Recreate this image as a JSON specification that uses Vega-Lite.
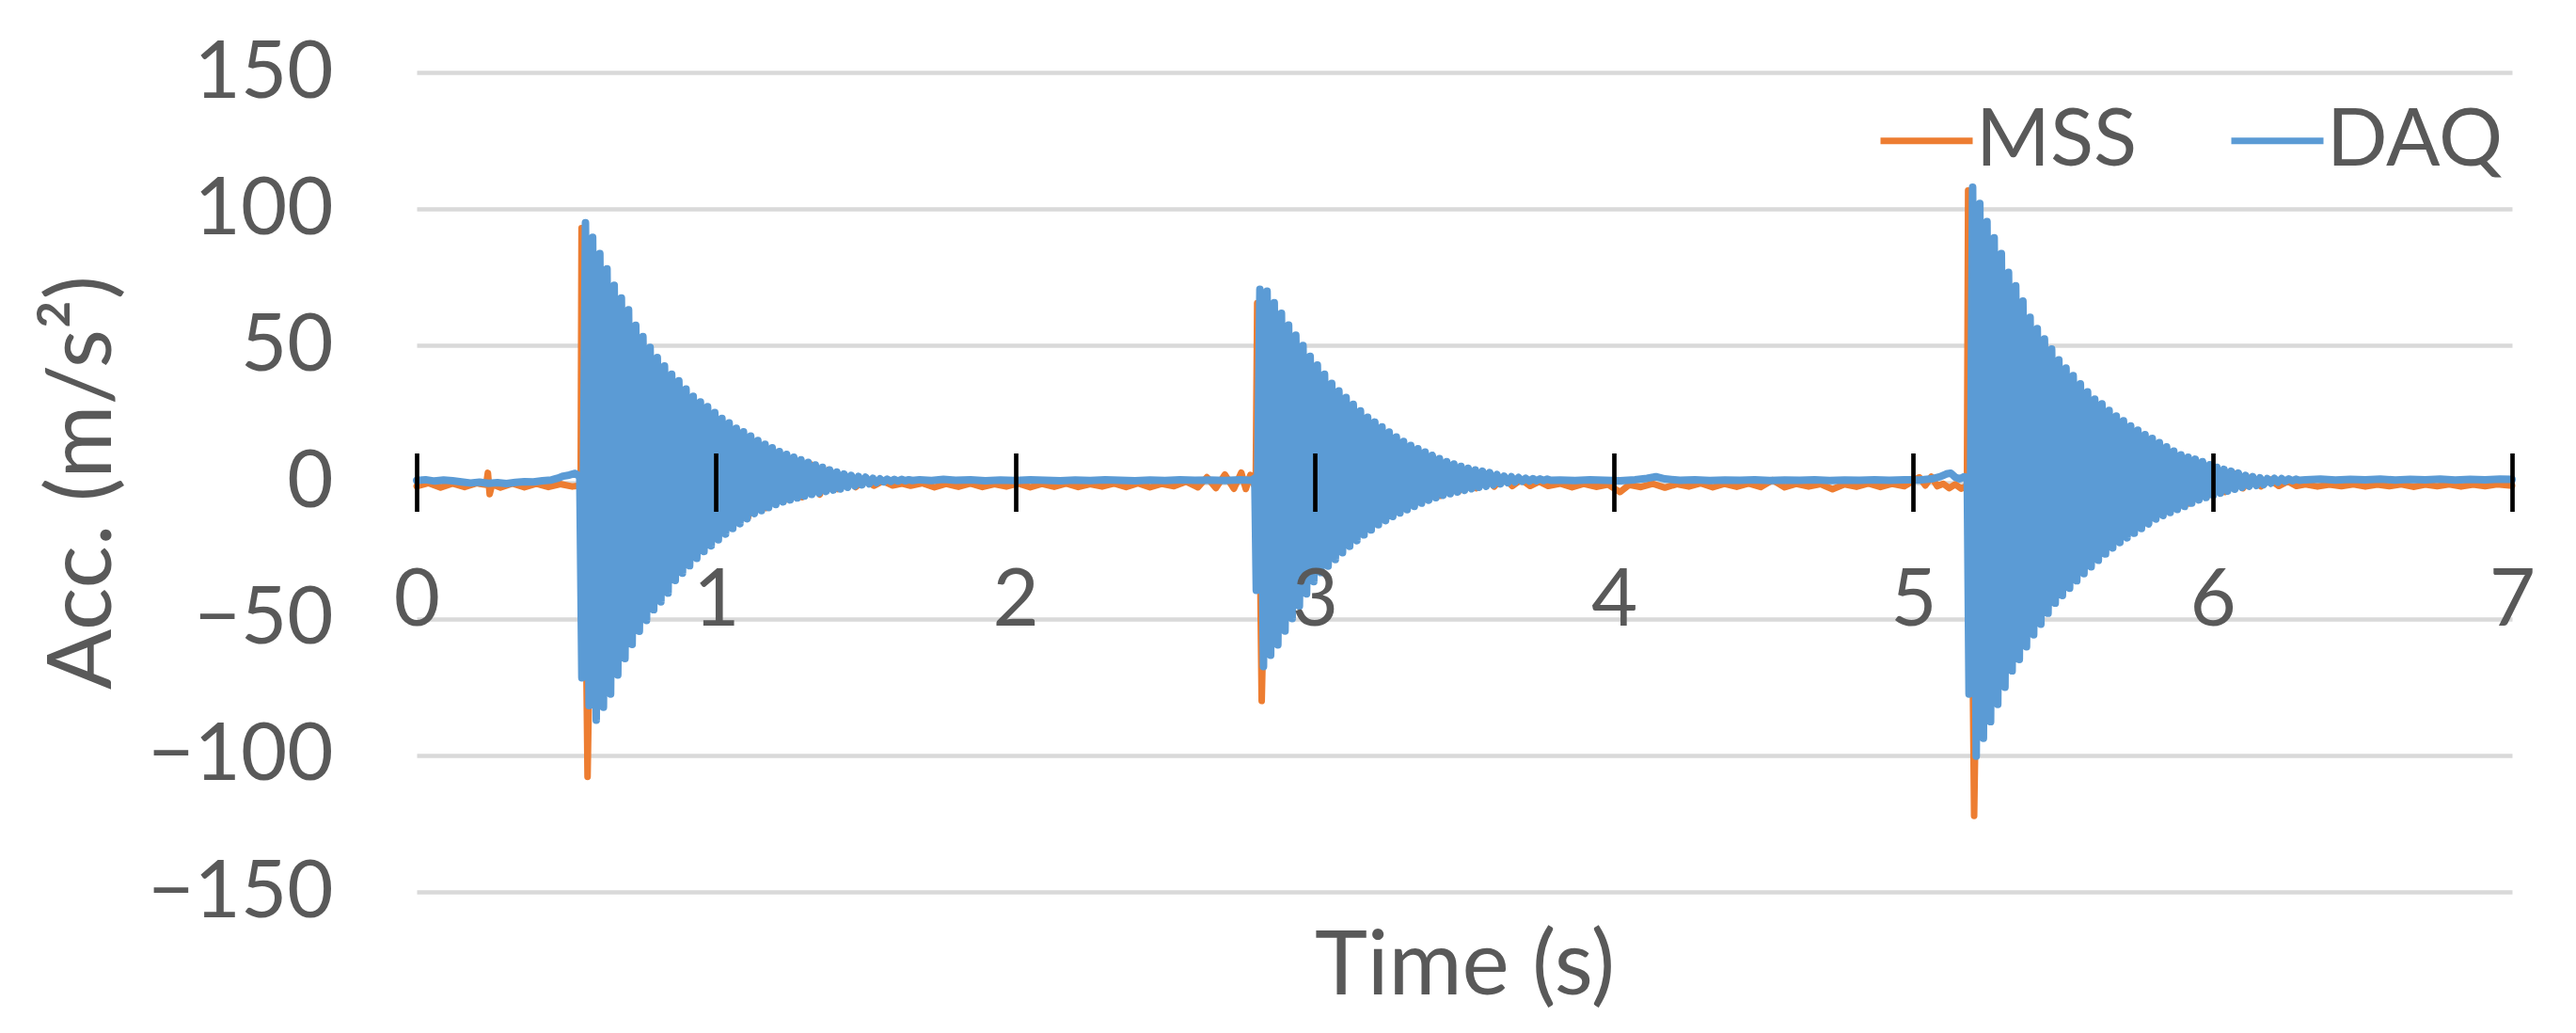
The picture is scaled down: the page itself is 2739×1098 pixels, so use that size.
{
"$schema":"https://vega.github.io/schema/vega-lite/v6.json",
"autosize":{"type":"none"},
"padding":{"left":443,"top":77,"right":68,"bottom":150},
"width":2228,"height":871,
"background":"white",
"config":{"view":{"stroke":null},"font":"Lato"},
"data":{"values":[
{"s":"MSS","t":0,"v":-1.5},{"s":"MSS","t":0.04,"v":-0.3},{"s":"MSS","t":0.08,"v":-2},{"s":"MSS","t":0.12,"v":-0.5},{"s":"MSS","t":0.16,"v":-1.8},{"s":"MSS","t":0.2,"v":-0.4},{"s":"MSS","t":0.232,"v":-1},{"s":"MSS","t":0.238,"v":3.4},{"s":"MSS","t":0.244,"v":-4.4},{"s":"MSS","t":0.252,"v":-0.8},{"s":"MSS","t":0.28,"v":-2},{"s":"MSS","t":0.32,"v":-0.5},{"s":"MSS","t":0.36,"v":-1.9},{"s":"MSS","t":0.4,"v":-0.6},{"s":"MSS","t":0.44,"v":-1.8},{"s":"MSS","t":0.48,"v":-0.7},{"s":"MSS","t":0.52,"v":-1.6},{"s":"MSS","t":0.548,"v":-1.2},
{"s":"MSS","t":0.551,"v":93},{"s":"MSS","t":0.571,"v":-107.9},{"s":"MSS","t":0.597,"v":72},{"s":"MSS","t":0.627,"v":-66},{"s":"MSS","t":0.657,"v":60},{"s":"MSS","t":0.687,"v":-55},{"s":"MSS","t":0.717,"v":50},{"s":"MSS","t":0.747,"v":-45},{"s":"MSS","t":0.777,"v":41},{"s":"MSS","t":0.807,"v":-37},{"s":"MSS","t":0.837,"v":34},{"s":"MSS","t":0.867,"v":-31},{"s":"MSS","t":0.897,"v":29},{"s":"MSS","t":0.927,"v":-26},{"s":"MSS","t":0.957,"v":24},{"s":"MSS","t":0.987,"v":-21},{"s":"MSS","t":1.017,"v":20},{"s":"MSS","t":1.047,"v":-16},{"s":"MSS","t":1.077,"v":16},{"s":"MSS","t":1.107,"v":-13},{"s":"MSS","t":1.137,"v":13.5},{"s":"MSS","t":1.167,"v":-9.5},{"s":"MSS","t":1.197,"v":10.5},{"s":"MSS","t":1.227,"v":-7},{"s":"MSS","t":1.257,"v":8.5},{"s":"MSS","t":1.287,"v":-5.5},{"s":"MSS","t":1.317,"v":6.5},{"s":"MSS","t":1.347,"v":-4.5},{"s":"MSS","t":1.377,"v":4.5},{"s":"MSS","t":1.407,"v":-2.5},{"s":"MSS","t":1.437,"v":2},{"s":"MSS","t":1.467,"v":-1.8},{"s":"MSS","t":1.497,"v":1.2},{"s":"MSS","t":1.527,"v":-1.3},{"s":"MSS","t":1.557,"v":0.4},{"s":"MSS","t":1.59,"v":-1.2},{"s":"MSS","t":1.62,"v":-0.5},{"s":"MSS","t":1.65,"v":-1.3},
{"s":"MSS","t":1.69,"v":-0.4},{"s":"MSS","t":1.73,"v":-1.9},{"s":"MSS","t":1.77,"v":-0.6},{"s":"MSS","t":1.81,"v":-1.7},{"s":"MSS","t":1.85,"v":-0.5},{"s":"MSS","t":1.89,"v":-1.8},{"s":"MSS","t":1.93,"v":-0.7},{"s":"MSS","t":1.97,"v":-1.6},{"s":"MSS","t":2.01,"v":-0.5},{"s":"MSS","t":2.05,"v":-1.9},{"s":"MSS","t":2.09,"v":-0.6},{"s":"MSS","t":2.13,"v":-1.7},{"s":"MSS","t":2.17,"v":-0.5},{"s":"MSS","t":2.21,"v":-1.8},{"s":"MSS","t":2.25,"v":-0.7},{"s":"MSS","t":2.29,"v":-1.6},{"s":"MSS","t":2.33,"v":-0.5},{"s":"MSS","t":2.37,"v":-1.8},{"s":"MSS","t":2.41,"v":-0.4},{"s":"MSS","t":2.45,"v":-1.9},{"s":"MSS","t":2.49,"v":-0.6},{"s":"MSS","t":2.53,"v":-1.5},{"s":"MSS","t":2.57,"v":0.2},{"s":"MSS","t":2.61,"v":-1.9},{"s":"MSS","t":2.64,"v":1.8},{"s":"MSS","t":2.67,"v":-2.2},{"s":"MSS","t":2.7,"v":2.8},{"s":"MSS","t":2.73,"v":-2.4},{"s":"MSS","t":2.755,"v":3.5},{"s":"MSS","t":2.77,"v":-2.5},{"s":"MSS","t":2.785,"v":2.6},{"s":"MSS","t":2.8,"v":-1.5},{"s":"MSS","t":2.803,"v":-2},
{"s":"MSS","t":2.808,"v":65.5},{"s":"MSS","t":2.823,"v":-80.1},{"s":"MSS","t":2.85,"v":52},{"s":"MSS","t":2.88,"v":-50},{"s":"MSS","t":2.91,"v":46},{"s":"MSS","t":2.94,"v":-40},{"s":"MSS","t":2.97,"v":38},{"s":"MSS","t":3.0,"v":-30},{"s":"MSS","t":3.03,"v":32},{"s":"MSS","t":3.06,"v":-26},{"s":"MSS","t":3.09,"v":26},{"s":"MSS","t":3.12,"v":-21},{"s":"MSS","t":3.15,"v":22},{"s":"MSS","t":3.18,"v":-16},{"s":"MSS","t":3.21,"v":17},{"s":"MSS","t":3.24,"v":-12.5},{"s":"MSS","t":3.27,"v":13.5},{"s":"MSS","t":3.3,"v":-9},{"s":"MSS","t":3.33,"v":10.5},{"s":"MSS","t":3.36,"v":-7},{"s":"MSS","t":3.39,"v":8},{"s":"MSS","t":3.42,"v":-5},{"s":"MSS","t":3.45,"v":6},{"s":"MSS","t":3.48,"v":-3.5},{"s":"MSS","t":3.51,"v":4.5},{"s":"MSS","t":3.54,"v":-2.2},{"s":"MSS","t":3.57,"v":3},{"s":"MSS","t":3.6,"v":-1.6},{"s":"MSS","t":3.63,"v":2},{"s":"MSS","t":3.66,"v":-1.4},{"s":"MSS","t":3.69,"v":1},{"s":"MSS","t":3.72,"v":-1.4},{"s":"MSS","t":3.75,"v":0.2},{"s":"MSS","t":3.78,"v":-1.4},
{"s":"MSS","t":3.82,"v":-0.5},{"s":"MSS","t":3.86,"v":-1.9},{"s":"MSS","t":3.9,"v":-0.6},{"s":"MSS","t":3.94,"v":-1.7},{"s":"MSS","t":3.98,"v":-0.9},{"s":"MSS","t":4.02,"v":-3.6},{"s":"MSS","t":4.05,"v":-1.0},{"s":"MSS","t":4.09,"v":-1.8},{"s":"MSS","t":4.13,"v":-0.6},{"s":"MSS","t":4.17,"v":-2.0},{"s":"MSS","t":4.21,"v":-0.7},{"s":"MSS","t":4.25,"v":-1.6},{"s":"MSS","t":4.29,"v":-0.4},{"s":"MSS","t":4.33,"v":-1.9},{"s":"MSS","t":4.37,"v":-0.6},{"s":"MSS","t":4.41,"v":-1.7},{"s":"MSS","t":4.45,"v":-0.5},{"s":"MSS","t":4.49,"v":-1.8},{"s":"MSS","t":4.53,"v":0.8},{"s":"MSS","t":4.57,"v":-1.9},{"s":"MSS","t":4.61,"v":-0.6},{"s":"MSS","t":4.65,"v":-1.6},{"s":"MSS","t":4.69,"v":-0.7},{"s":"MSS","t":4.73,"v":-2.6},{"s":"MSS","t":4.77,"v":-0.8},{"s":"MSS","t":4.81,"v":-1.7},{"s":"MSS","t":4.85,"v":-0.5},{"s":"MSS","t":4.89,"v":-1.8},{"s":"MSS","t":4.93,"v":-0.6},{"s":"MSS","t":4.97,"v":-1.5},{"s":"MSS","t":5.0,"v":0.5},{"s":"MSS","t":5.02,"v":1.8},{"s":"MSS","t":5.04,"v":-1.2},{"s":"MSS","t":5.06,"v":2.0},{"s":"MSS","t":5.08,"v":-1.5},{"s":"MSS","t":5.1,"v":-0.6},{"s":"MSS","t":5.12,"v":-2.2},{"s":"MSS","t":5.14,"v":-0.8},{"s":"MSS","t":5.16,"v":-2.4},{"s":"MSS","t":5.175,"v":-1.5},{"s":"MSS","t":5.179,"v":-2},
{"s":"MSS","t":5.183,"v":106.8},{"s":"MSS","t":5.203,"v":-122.2},{"s":"MSS","t":5.231,"v":80},{"s":"MSS","t":5.261,"v":-75},{"s":"MSS","t":5.291,"v":68},{"s":"MSS","t":5.321,"v":-62},{"s":"MSS","t":5.351,"v":57},{"s":"MSS","t":5.381,"v":-52},{"s":"MSS","t":5.411,"v":46},{"s":"MSS","t":5.441,"v":-42},{"s":"MSS","t":5.471,"v":38},{"s":"MSS","t":5.501,"v":-35},{"s":"MSS","t":5.531,"v":32},{"s":"MSS","t":5.561,"v":-29},{"s":"MSS","t":5.591,"v":26},{"s":"MSS","t":5.621,"v":-24},{"s":"MSS","t":5.651,"v":21.5},{"s":"MSS","t":5.681,"v":-19.5},{"s":"MSS","t":5.711,"v":18},{"s":"MSS","t":5.741,"v":-16},{"s":"MSS","t":5.771,"v":14.5},{"s":"MSS","t":5.801,"v":-13},{"s":"MSS","t":5.831,"v":11.5},{"s":"MSS","t":5.861,"v":-9.8},{"s":"MSS","t":5.891,"v":8.4},{"s":"MSS","t":5.921,"v":-7.8},{"s":"MSS","t":5.951,"v":6.8},{"s":"MSS","t":5.981,"v":-5.2},{"s":"MSS","t":6.011,"v":4.6},{"s":"MSS","t":6.041,"v":-3.6},{"s":"MSS","t":6.071,"v":3.2},{"s":"MSS","t":6.101,"v":-2.2},{"s":"MSS","t":6.131,"v":2},{"s":"MSS","t":6.161,"v":-1.5},{"s":"MSS","t":6.191,"v":1},{"s":"MSS","t":6.221,"v":-1.4},{"s":"MSS","t":6.251,"v":0.3},{"s":"MSS","t":6.28,"v":-1.4},
{"s":"MSS","t":6.31,"v":-0.8},{"s":"MSS","t":6.35,"v":-1.6},{"s":"MSS","t":6.39,"v":-0.9},{"s":"MSS","t":6.43,"v":-1.5},{"s":"MSS","t":6.47,"v":-0.8},{"s":"MSS","t":6.51,"v":-1.6},{"s":"MSS","t":6.55,"v":-0.9},{"s":"MSS","t":6.59,"v":-1.5},{"s":"MSS","t":6.63,"v":-0.8},{"s":"MSS","t":6.67,"v":-1.7},{"s":"MSS","t":6.71,"v":-0.9},{"s":"MSS","t":6.75,"v":-1.5},{"s":"MSS","t":6.79,"v":-0.8},{"s":"MSS","t":6.83,"v":-1.6},{"s":"MSS","t":6.87,"v":-0.9},{"s":"MSS","t":6.91,"v":-1.5},{"s":"MSS","t":6.95,"v":-0.8},{"s":"MSS","t":7.0,"v":-1.3},

{"s":"DAQ","t":0,"v":0.6},{"s":"DAQ","t":0.03,"v":0.9},{"s":"DAQ","t":0.06,"v":0.4},{"s":"DAQ","t":0.09,"v":0.8},{"s":"DAQ","t":0.12,"v":0.5},{"s":"DAQ","t":0.15,"v":0.1},{"s":"DAQ","t":0.18,"v":-0.3},{"s":"DAQ","t":0.21,"v":0},{"s":"DAQ","t":0.24,"v":-0.4},{"s":"DAQ","t":0.27,"v":-0.2},{"s":"DAQ","t":0.3,"v":-0.5},{"s":"DAQ","t":0.33,"v":-0.1},{"s":"DAQ","t":0.36,"v":0.2},{"s":"DAQ","t":0.39,"v":0.1},{"s":"DAQ","t":0.42,"v":0.5},{"s":"DAQ","t":0.45,"v":0.8},{"s":"DAQ","t":0.47,"v":1.4},{"s":"DAQ","t":0.49,"v":2.2},{"s":"DAQ","t":0.51,"v":2.6},{"s":"DAQ","t":0.53,"v":3.2},{"s":"DAQ","t":0.545,"v":2.0},
{"s":"DAQ","t":0.552,"v":-71.6},{"s":"DAQ","t":0.564,"v":95},{"s":"DAQ","t":0.576,"v":-81.8},{"s":"DAQ","t":0.588,"v":89.6},{"s":"DAQ","t":0.6,"v":-87.1},{"s":"DAQ","t":0.612,"v":83.7},{"s":"DAQ","t":0.624,"v":-82.4},{"s":"DAQ","t":0.636,"v":78.1},{"s":"DAQ","t":0.648,"v":-77.6},{"s":"DAQ","t":0.66,"v":72.1},{"s":"DAQ","t":0.672,"v":-70.6},{"s":"DAQ","t":0.684,"v":67.4},{"s":"DAQ","t":0.696,"v":-64.6},{"s":"DAQ","t":0.708,"v":63.1},{"s":"DAQ","t":0.72,"v":-59.4},{"s":"DAQ","t":0.732,"v":57.4},{"s":"DAQ","t":0.744,"v":-54.6},{"s":"DAQ","t":0.756,"v":53.3},{"s":"DAQ","t":0.768,"v":-50.6},{"s":"DAQ","t":0.78,"v":49.3},{"s":"DAQ","t":0.792,"v":-46.7},{"s":"DAQ","t":0.804,"v":45.6},{"s":"DAQ","t":0.816,"v":-43.8},{"s":"DAQ","t":0.828,"v":42.5},{"s":"DAQ","t":0.84,"v":-40.6},{"s":"DAQ","t":0.852,"v":39.5},{"s":"DAQ","t":0.864,"v":-36},{"s":"DAQ","t":0.876,"v":37.1},{"s":"DAQ","t":0.888,"v":-33.3},{"s":"DAQ","t":0.9,"v":34.1},{"s":"DAQ","t":0.912,"v":-30.6},{"s":"DAQ","t":0.924,"v":31.4},{"s":"DAQ","t":0.936,"v":-27.9},{"s":"DAQ","t":0.948,"v":29.4},{"s":"DAQ","t":0.96,"v":-25.4},{"s":"DAQ","t":0.972,"v":27.6},{"s":"DAQ","t":0.984,"v":-23.3},{"s":"DAQ","t":0.996,"v":25.5},{"s":"DAQ","t":1.008,"v":-21.1},{"s":"DAQ","t":1.02,"v":23.3},{"s":"DAQ","t":1.032,"v":-19},{"s":"DAQ","t":1.044,"v":21.7},{"s":"DAQ","t":1.056,"v":-17},{"s":"DAQ","t":1.068,"v":19.7},{"s":"DAQ","t":1.08,"v":-15.2},{"s":"DAQ","t":1.092,"v":18.4},{"s":"DAQ","t":1.104,"v":-13.4},{"s":"DAQ","t":1.116,"v":16.9},{"s":"DAQ","t":1.128,"v":-11.5},{"s":"DAQ","t":1.14,"v":15.2},{"s":"DAQ","t":1.152,"v":-10.4},{"s":"DAQ","t":1.164,"v":13.9},{"s":"DAQ","t":1.176,"v":-9.3},{"s":"DAQ","t":1.188,"v":12.6},{"s":"DAQ","t":1.2,"v":-8.2},{"s":"DAQ","t":1.212,"v":11.2},{"s":"DAQ","t":1.224,"v":-7.2},{"s":"DAQ","t":1.236,"v":10.2},{"s":"DAQ","t":1.248,"v":-6.5},{"s":"DAQ","t":1.26,"v":9.1},{"s":"DAQ","t":1.272,"v":-5.8},{"s":"DAQ","t":1.284,"v":8.2},{"s":"DAQ","t":1.296,"v":-5.1},{"s":"DAQ","t":1.308,"v":7.2},{"s":"DAQ","t":1.32,"v":-4.5},{"s":"DAQ","t":1.332,"v":6.3},{"s":"DAQ","t":1.344,"v":-4},{"s":"DAQ","t":1.356,"v":5.4},{"s":"DAQ","t":1.368,"v":-3.4},{"s":"DAQ","t":1.38,"v":4.5},{"s":"DAQ","t":1.392,"v":-2.9},{"s":"DAQ","t":1.404,"v":3.7},{"s":"DAQ","t":1.416,"v":-2.5},{"s":"DAQ","t":1.428,"v":3.0},{"s":"DAQ","t":1.44,"v":-1.9},{"s":"DAQ","t":1.452,"v":2.5},{"s":"DAQ","t":1.464,"v":-1.4},{"s":"DAQ","t":1.476,"v":2.1},{"s":"DAQ","t":1.488,"v":-1.0},{"s":"DAQ","t":1.5,"v":1.8},{"s":"DAQ","t":1.512,"v":-0.6},{"s":"DAQ","t":1.524,"v":1.4},{"s":"DAQ","t":1.536,"v":-0.2},{"s":"DAQ","t":1.548,"v":1.2},{"s":"DAQ","t":1.56,"v":0.1},{"s":"DAQ","t":1.572,"v":1.1},{"s":"DAQ","t":1.584,"v":0.3},{"s":"DAQ","t":1.596,"v":1.0},{"s":"DAQ","t":1.608,"v":0.4},{"s":"DAQ","t":1.62,"v":1.0},{"s":"DAQ","t":1.632,"v":0.5},{"s":"DAQ","t":1.644,"v":0.9},{"s":"DAQ","t":1.656,"v":0.6},
{"s":"DAQ","t":1.68,"v":0.9},{"s":"DAQ","t":1.72,"v":0.6},{"s":"DAQ","t":1.76,"v":1.0},{"s":"DAQ","t":1.8,"v":0.7},{"s":"DAQ","t":1.85,"v":0.9},{"s":"DAQ","t":1.9,"v":0.5},{"s":"DAQ","t":1.95,"v":0.8},{"s":"DAQ","t":2.0,"v":0.6},{"s":"DAQ","t":2.05,"v":0.9},{"s":"DAQ","t":2.1,"v":0.7},{"s":"DAQ","t":2.15,"v":0.5},{"s":"DAQ","t":2.2,"v":0.8},{"s":"DAQ","t":2.25,"v":0.6},{"s":"DAQ","t":2.3,"v":0.9},{"s":"DAQ","t":2.35,"v":0.7},{"s":"DAQ","t":2.4,"v":0.5},{"s":"DAQ","t":2.45,"v":0.8},{"s":"DAQ","t":2.5,"v":0.6},{"s":"DAQ","t":2.55,"v":0.9},{"s":"DAQ","t":2.6,"v":0.7},{"s":"DAQ","t":2.65,"v":0.8},{"s":"DAQ","t":2.7,"v":0.6},{"s":"DAQ","t":2.75,"v":0.9},{"s":"DAQ","t":2.79,"v":0.7},{"s":"DAQ","t":2.8,"v":1.5},
{"s":"DAQ","t":2.805,"v":-39.6},{"s":"DAQ","t":2.817,"v":70.6},{"s":"DAQ","t":2.829,"v":-67.5},{"s":"DAQ","t":2.841,"v":69.9},{"s":"DAQ","t":2.853,"v":-63.4},{"s":"DAQ","t":2.865,"v":65.7},{"s":"DAQ","t":2.877,"v":-59.6},{"s":"DAQ","t":2.889,"v":61.8},{"s":"DAQ","t":2.901,"v":-54.5},{"s":"DAQ","t":2.913,"v":57.5},{"s":"DAQ","t":2.925,"v":-49.9},{"s":"DAQ","t":2.937,"v":53.8},{"s":"DAQ","t":2.949,"v":-45.4},{"s":"DAQ","t":2.961,"v":50},{"s":"DAQ","t":2.973,"v":-40.9},{"s":"DAQ","t":2.985,"v":46.1},{"s":"DAQ","t":2.997,"v":-36.4},{"s":"DAQ","t":3.009,"v":42.9},{"s":"DAQ","t":3.021,"v":-33.1},{"s":"DAQ","t":3.033,"v":39.5},{"s":"DAQ","t":3.045,"v":-30.7},{"s":"DAQ","t":3.057,"v":36.2},{"s":"DAQ","t":3.069,"v":-28.3},{"s":"DAQ","t":3.081,"v":33.4},{"s":"DAQ","t":3.093,"v":-25.8},{"s":"DAQ","t":3.105,"v":31},{"s":"DAQ","t":3.117,"v":-23.5},{"s":"DAQ","t":3.129,"v":28.5},{"s":"DAQ","t":3.141,"v":-21.4},{"s":"DAQ","t":3.153,"v":26.1},{"s":"DAQ","t":3.165,"v":-19.3},{"s":"DAQ","t":3.177,"v":23.8},{"s":"DAQ","t":3.189,"v":-17.5},{"s":"DAQ","t":3.201,"v":22},{"s":"DAQ","t":3.213,"v":-15.6},{"s":"DAQ","t":3.225,"v":20.2},{"s":"DAQ","t":3.237,"v":-14.1},{"s":"DAQ","t":3.249,"v":18.3},{"s":"DAQ","t":3.261,"v":-12.6},{"s":"DAQ","t":3.273,"v":16.5},{"s":"DAQ","t":3.285,"v":-11.3},{"s":"DAQ","t":3.297,"v":14.9},{"s":"DAQ","t":3.309,"v":-10.1},{"s":"DAQ","t":3.321,"v":13.4},{"s":"DAQ","t":3.333,"v":-8.9},{"s":"DAQ","t":3.345,"v":12.2},{"s":"DAQ","t":3.357,"v":-7.7},{"s":"DAQ","t":3.369,"v":11},{"s":"DAQ","t":3.381,"v":-6.6},{"s":"DAQ","t":3.393,"v":9.8},{"s":"DAQ","t":3.405,"v":-5.7},{"s":"DAQ","t":3.417,"v":8.6},{"s":"DAQ","t":3.429,"v":-4.8},{"s":"DAQ","t":3.441,"v":7.5},{"s":"DAQ","t":3.453,"v":-4.2},{"s":"DAQ","t":3.465,"v":6.6},{"s":"DAQ","t":3.477,"v":-3.6},{"s":"DAQ","t":3.489,"v":5.8},{"s":"DAQ","t":3.501,"v":-3},{"s":"DAQ","t":3.513,"v":5.1},{"s":"DAQ","t":3.525,"v":-2.4},{"s":"DAQ","t":3.537,"v":4.5},{"s":"DAQ","t":3.549,"v":-1.9},{"s":"DAQ","t":3.561,"v":4},{"s":"DAQ","t":3.573,"v":-1.5},{"s":"DAQ","t":3.585,"v":3.5},{"s":"DAQ","t":3.597,"v":-1},{"s":"DAQ","t":3.609,"v":2.8},{"s":"DAQ","t":3.621,"v":-0.6},{"s":"DAQ","t":3.633,"v":2.2},{"s":"DAQ","t":3.645,"v":-0.2},{"s":"DAQ","t":3.657,"v":2.0},{"s":"DAQ","t":3.669,"v":0.1},{"s":"DAQ","t":3.681,"v":1.7},{"s":"DAQ","t":3.693,"v":0.3},{"s":"DAQ","t":3.705,"v":1.4},{"s":"DAQ","t":3.717,"v":0.4},{"s":"DAQ","t":3.729,"v":1.3},{"s":"DAQ","t":3.741,"v":0.5},{"s":"DAQ","t":3.753,"v":1.2},{"s":"DAQ","t":3.765,"v":0.6},{"s":"DAQ","t":3.777,"v":1.1},{"s":"DAQ","t":3.789,"v":0.7},
{"s":"DAQ","t":3.82,"v":0.8},{"s":"DAQ","t":3.87,"v":0.6},{"s":"DAQ","t":3.92,"v":0.9},{"s":"DAQ","t":3.97,"v":0.7},{"s":"DAQ","t":4.02,"v":0.5},{"s":"DAQ","t":4.07,"v":0.9},{"s":"DAQ","t":4.11,"v":1.4},{"s":"DAQ","t":4.14,"v":2.0},{"s":"DAQ","t":4.17,"v":1.2},{"s":"DAQ","t":4.22,"v":0.7},{"s":"DAQ","t":4.27,"v":0.9},{"s":"DAQ","t":4.32,"v":0.6},{"s":"DAQ","t":4.37,"v":0.8},{"s":"DAQ","t":4.42,"v":0.7},{"s":"DAQ","t":4.47,"v":0.9},{"s":"DAQ","t":4.52,"v":0.6},{"s":"DAQ","t":4.57,"v":0.8},{"s":"DAQ","t":4.62,"v":0.7},{"s":"DAQ","t":4.67,"v":0.9},{"s":"DAQ","t":4.72,"v":0.6},{"s":"DAQ","t":4.77,"v":0.8},{"s":"DAQ","t":4.82,"v":0.7},{"s":"DAQ","t":4.87,"v":0.9},{"s":"DAQ","t":4.92,"v":0.7},{"s":"DAQ","t":4.97,"v":0.9},{"s":"DAQ","t":5.02,"v":0.8},{"s":"DAQ","t":5.06,"v":1.2},{"s":"DAQ","t":5.09,"v":2.0},{"s":"DAQ","t":5.11,"v":3.0},{"s":"DAQ","t":5.125,"v":3.3},{"s":"DAQ","t":5.14,"v":1.8},{"s":"DAQ","t":5.155,"v":1.2},{"s":"DAQ","t":5.17,"v":2.0},{"s":"DAQ","t":5.18,"v":1.5},
{"s":"DAQ","t":5.186,"v":-77.6},{"s":"DAQ","t":5.198,"v":108},{"s":"DAQ","t":5.21,"v":-100.3},{"s":"DAQ","t":5.222,"v":102},{"s":"DAQ","t":5.234,"v":-93.8},{"s":"DAQ","t":5.246,"v":95.4},{"s":"DAQ","t":5.258,"v":-87.7},{"s":"DAQ","t":5.27,"v":89.5},{"s":"DAQ","t":5.282,"v":-81.4},{"s":"DAQ","t":5.294,"v":83.7},{"s":"DAQ","t":5.306,"v":-75.1},{"s":"DAQ","t":5.318,"v":76.8},{"s":"DAQ","t":5.33,"v":-69.1},{"s":"DAQ","t":5.342,"v":71.9},{"s":"DAQ","t":5.354,"v":-64.9},{"s":"DAQ","t":5.366,"v":66.3},{"s":"DAQ","t":5.378,"v":-60.3},{"s":"DAQ","t":5.39,"v":60.4},{"s":"DAQ","t":5.402,"v":-55.9},{"s":"DAQ","t":5.414,"v":56.2},{"s":"DAQ","t":5.426,"v":-52},{"s":"DAQ","t":5.438,"v":52.4},{"s":"DAQ","t":5.45,"v":-48},{"s":"DAQ","t":5.462,"v":48.7},{"s":"DAQ","t":5.474,"v":-44.3},{"s":"DAQ","t":5.486,"v":44.8},{"s":"DAQ","t":5.498,"v":-41.5},{"s":"DAQ","t":5.51,"v":41.8},{"s":"DAQ","t":5.522,"v":-38.8},{"s":"DAQ","t":5.534,"v":39},{"s":"DAQ","t":5.546,"v":-36.1},{"s":"DAQ","t":5.558,"v":36},{"s":"DAQ","t":5.57,"v":-33.5},{"s":"DAQ","t":5.582,"v":33.1},{"s":"DAQ","t":5.594,"v":-31},{"s":"DAQ","t":5.606,"v":30.4},{"s":"DAQ","t":5.618,"v":-28.6},{"s":"DAQ","t":5.63,"v":28.7},{"s":"DAQ","t":5.642,"v":-26.3},{"s":"DAQ","t":5.654,"v":26.3},{"s":"DAQ","t":5.666,"v":-24.1},{"s":"DAQ","t":5.678,"v":24.2},{"s":"DAQ","t":5.69,"v":-22.1},{"s":"DAQ","t":5.702,"v":22.5},{"s":"DAQ","t":5.714,"v":-20.4},{"s":"DAQ","t":5.726,"v":20.6},{"s":"DAQ","t":5.738,"v":-18.7},{"s":"DAQ","t":5.75,"v":19},{"s":"DAQ","t":5.762,"v":-17},{"s":"DAQ","t":5.774,"v":17.4},{"s":"DAQ","t":5.786,"v":-15.3},{"s":"DAQ","t":5.798,"v":16},{"s":"DAQ","t":5.81,"v":-13.5},{"s":"DAQ","t":5.822,"v":14.5},{"s":"DAQ","t":5.834,"v":-12.2},{"s":"DAQ","t":5.846,"v":12.9},{"s":"DAQ","t":5.858,"v":-11.1},{"s":"DAQ","t":5.87,"v":11.4},{"s":"DAQ","t":5.882,"v":-10},{"s":"DAQ","t":5.894,"v":10},{"s":"DAQ","t":5.906,"v":-8.9},{"s":"DAQ","t":5.918,"v":9.1},{"s":"DAQ","t":5.93,"v":-7.7},{"s":"DAQ","t":5.942,"v":8.4},{"s":"DAQ","t":5.954,"v":-6.5},{"s":"DAQ","t":5.966,"v":7.5},{"s":"DAQ","t":5.978,"v":-5.6},{"s":"DAQ","t":5.99,"v":6.4},{"s":"DAQ","t":6.002,"v":-4.8},{"s":"DAQ","t":6.014,"v":5.4},{"s":"DAQ","t":6.026,"v":-4},{"s":"DAQ","t":6.038,"v":4.7},{"s":"DAQ","t":6.05,"v":-3.3},{"s":"DAQ","t":6.062,"v":4},{"s":"DAQ","t":6.074,"v":-2.6},{"s":"DAQ","t":6.086,"v":3.3},{"s":"DAQ","t":6.098,"v":-1.9},{"s":"DAQ","t":6.11,"v":2.5},{"s":"DAQ","t":6.122,"v":-1.5},{"s":"DAQ","t":6.134,"v":2.0},{"s":"DAQ","t":6.146,"v":-1.2},{"s":"DAQ","t":6.158,"v":1.6},{"s":"DAQ","t":6.17,"v":-0.9},{"s":"DAQ","t":6.182,"v":1.3},{"s":"DAQ","t":6.194,"v":-0.4},{"s":"DAQ","t":6.206,"v":1.4},{"s":"DAQ","t":6.218,"v":0},{"s":"DAQ","t":6.23,"v":1.3},{"s":"DAQ","t":6.242,"v":0.3},{"s":"DAQ","t":6.254,"v":1.2},{"s":"DAQ","t":6.266,"v":0.5},{"s":"DAQ","t":6.278,"v":1.1},{"s":"DAQ","t":6.29,"v":0.7},
{"s":"DAQ","t":6.31,"v":0.9},{"s":"DAQ","t":6.36,"v":1.1},{"s":"DAQ","t":6.41,"v":0.8},{"s":"DAQ","t":6.46,"v":1.0},{"s":"DAQ","t":6.51,"v":0.9},{"s":"DAQ","t":6.56,"v":1.1},{"s":"DAQ","t":6.61,"v":0.8},{"s":"DAQ","t":6.66,"v":1.0},{"s":"DAQ","t":6.71,"v":0.9},{"s":"DAQ","t":6.76,"v":1.1},{"s":"DAQ","t":6.81,"v":0.8},{"s":"DAQ","t":6.86,"v":1.0},{"s":"DAQ","t":6.91,"v":0.9},{"s":"DAQ","t":6.96,"v":1.1},{"s":"DAQ","t":7.0,"v":1.0}
]},
"encoding":{
"x":{"field":"t","type":"quantitative","scale":{"domain":[0,7],"nice":false,"zero":false},
"axis":{"values":[0,1,2,3,4,5,6,7],"format":"d","offset":-466.5,"domain":false,"grid":false,"ticks":true,"tickSize":62,"tickWidth":4.7,"tickColor":"#000000","labelFontSize":85,"labelFont":"Lato","labelColor":"#595959","labelPadding":54,"labelFlush":false,"labelOverlap":false,"labelBound":false,"title":"Time (s)","titleFont":"Lato","titleFontSize":95,"titleFontWeight":"normal","titleColor":"#595959","titleBaseline":"alphabetic","titleAlign":"center","titleX":1114,"titleY":575,"titleLimit":3000,"zindex":1}},
"y":{"field":"v","type":"quantitative","scale":{"domain":[-150,150],"nice":false},
"axis":{"values":[-150,-100,-50,0,50,100,150],"domain":false,"ticks":false,"grid":true,"gridColor":"#D9D9D9","gridWidth":4.5,"labelFontSize":85,"labelFont":"Lato","labelColor":"#595959","labelPadding":89,"labelLimit":1000,"title":"Acc. (m/s²)","titleFont":"Lato","titleFontSize":95,"titleFontWeight":"normal","titleColor":"#595959","titleAngle":-90,"titleX":-326,"titleY":435.5,"titleBaseline":"alphabetic","titleAlign":"center","titleLimit":3000,"zindex":0}},
"color":{"field":"s","type":"nominal","scale":{"domain":["MSS","DAQ"],"range":["#ED7D31","#5B9BD5"]},
"legend":{"orient":"none","legendX":1553,"legendY":20,"direction":"horizontal","title":null,"symbolType":"stroke","symbolSize":9604,"symbolStrokeWidth":7,"labelFontSize":85,"labelFont":"Lato","labelColor":"#595959","labelOffset":0,"labelLimit":1000,"columnPadding":85,"padding":0}}
},
"layer":[
{"transform":[{"filter":"datum.s == 'MSS'"}],"mark":{"type":"line","strokeWidth":7,"strokeJoin":"round","strokeCap":"round"}},
{"transform":[{"filter":"datum.s == 'DAQ'"}],"mark":{"type":"line","strokeWidth":8,"strokeJoin":"round","strokeCap":"round"}}
]
}
